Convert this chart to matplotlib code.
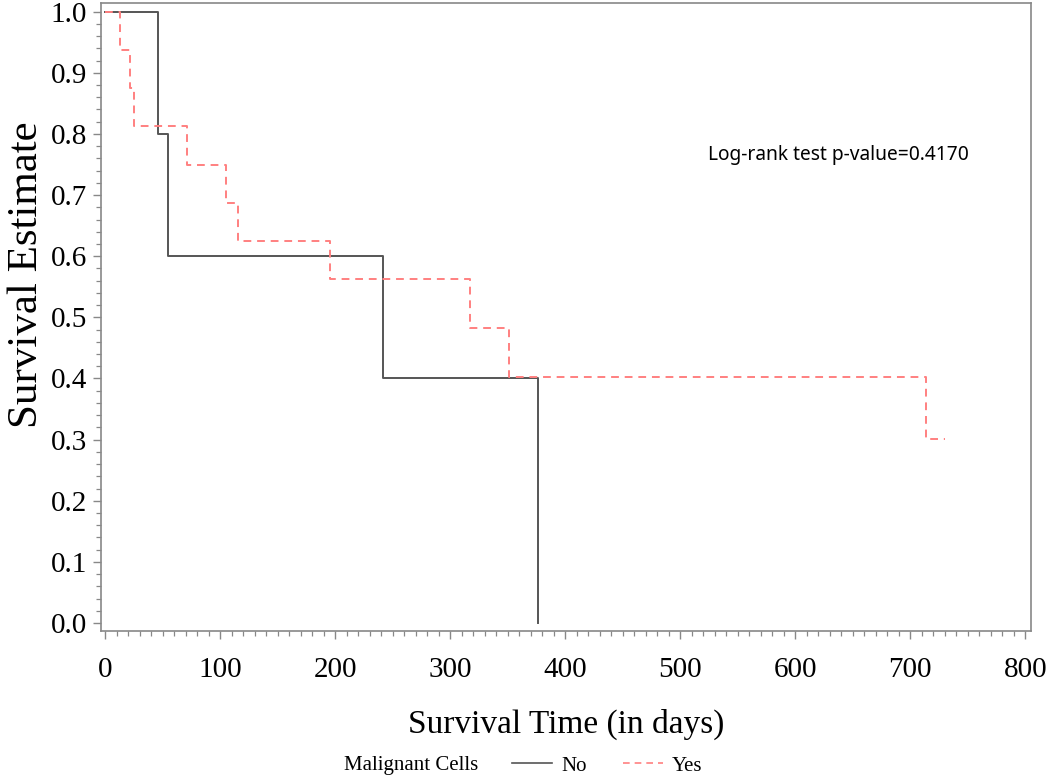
import matplotlib
matplotlib.use('Agg')
import matplotlib.pyplot as plt
from matplotlib.ticker import MultipleLocator
from matplotlib.lines import Line2D

# Kaplan-Meier steps
no_times = [0, 46, 55, 242, 376.5]
no_surv = [1.0, 0.8, 0.6, 0.4, 0.0]

yes_times = [0, 13, 22, 25, 71, 105, 116, 196, 317, 351, 714, 730]
yes_surv = [1.0, 0.9375, 0.875, 0.8125, 0.75, 0.6875, 0.625, 0.5625, 0.4821, 0.4018, 0.3013, 0.3013]

group_labels = ['No', 'Yes']
pvalue_text = 'Log-rank test p-value=0.4170'

plt.rcParams['font.family'] = ['Liberation Serif', 'DejaVu Serif']

fig = plt.figure(figsize=(10.5, 7.79), dpi=100)
ax = fig.add_axes([0.0962, 0.19, 0.8857, 0.806])

black = '#555555'
red = '#ff8080'
ax.step(no_times, no_surv, where='post', color=black, lw=1.4, label=group_labels[0])
ax.step(yes_times, yes_surv, where='post', color=red, lw=1.4, linestyle=(0, (4, 3)),
        label=group_labels[1])

ax.set_xlim(-3.5, 805)
ax.set_ylim(-0.013, 1.014)
ax.xaxis.set_major_locator(MultipleLocator(100))
ax.xaxis.set_minor_locator(MultipleLocator(10))
ax.yaxis.set_major_locator(MultipleLocator(0.1))
ax.yaxis.set_minor_locator(MultipleLocator(0.02))
ax.yaxis.set_major_formatter(matplotlib.ticker.FormatStrFormatter('%.1f'))

for sp in ax.spines.values():
    sp.set_color('#888888')
    sp.set_linewidth(1.2)
ax.tick_params(which='major', length=6, width=1.0, color='#888888', labelsize=21, pad=4)
ax.tick_params(axis='x', which='major', pad=12.5)
ax.tick_params(which='minor', length=3.5, width=0.9, color='#888888')

ax.set_xlabel('Survival Time (in days)', fontsize=24, labelpad=19)
ax.set_ylabel('Survival Estimate', fontsize=31)
ax.yaxis.set_label_coords(-0.059, 0.567)

ax.text(0.653, 0.758, pvalue_text, transform=ax.transAxes, fontsize=13.8,
        family=['Noto Sans', 'DejaVu Sans'], va='center', ha='left')

# legend row at the bottom
fig.text(0.328, 0.017, 'Malignant Cells', fontsize=15, va='center', ha='left')
handles = [Line2D([], [], color=black, lw=1.2),
           Line2D([], [], color=red, lw=1.2, linestyle=(0, (4, 3)))]
fig.legend(handles, group_labels, loc='center left', bbox_to_anchor=(0.47, 0.017),
           ncol=2, frameon=False, fontsize=15, handlelength=1.9,
           handletextpad=0.45, columnspacing=1.75)

fig.savefig('out.png', dpi=100)
